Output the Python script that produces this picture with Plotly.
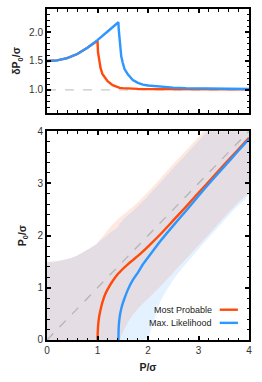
import plotly.graph_objects as go

# ---------------- data ----------------
# Most Probable estimator
P_mp = [0, 0.2, 0.4, 0.6, 0.8, 1.0, 1.01, 1.03, 1.06, 1.1, 1.15, 1.2, 1.3, 1.4, 1.44, 1.5,
        1.6, 1.7, 1.8, 2.0, 2.25, 2.5, 2.75, 3.0, 3.25, 3.5, 3.75, 4.0]
P0_mp = [0, 0, 0, 0, 0, 0, 0.25, 0.43, 0.58, 0.73, 0.87, 0.97, 1.13, 1.26, 1.30, 1.36,
         1.45, 1.53, 1.61, 1.79, 2.03, 2.29, 2.55, 2.82, 3.08, 3.35, 3.61, 3.87]
dP0_mp = [1.50, 1.51, 1.55, 1.62, 1.73, 1.85, 1.65, 1.50, 1.38, 1.27, 1.20, 1.15, 1.08,
          1.045, 1.035, 1.03, 1.022, 1.019, 1.016, 1.013, 1.012, 1.011, 1.010, 1.010,
          1.009, 1.009, 1.008, 1.008]
band_lo_mp = [0, 0, 0, 0, 0, 0, 0, 0, 0, 0, 0, 0, 0, 0, 0, 0.14,
              0.33, 0.48, 0.60, 0.79, 1.03, 1.29, 1.55, 1.81, 2.07, 2.34, 2.60, 2.86]
band_hi_mp = [1.50, 1.51, 1.55, 1.62, 1.73, 1.85, 1.87, 1.90, 1.93, 1.98, 2.04, 2.10, 2.21,
              2.31, 2.34, 2.39, 2.47, 2.55, 2.64, 2.84, 3.10, 3.37, 3.63, 3.89, 4.15,
              4.40, 4.66, 4.92]

# Maximum Likelihood estimator
P_ml = [0, 0.2, 0.4, 0.6, 0.8, 1.0, 1.2, 1.3, 1.414, 1.42, 1.44, 1.47, 1.5, 1.535, 1.6,
        1.7, 1.8, 1.9, 2.0, 2.25, 2.5, 2.75, 3.0, 3.25, 3.5, 3.75, 4.0]
P0_ml = [0, 0, 0, 0, 0, 0, 0, 0, 0, 0.25, 0.45, 0.60, 0.70, 0.80, 0.96,
         1.15, 1.29, 1.45, 1.58, 1.90, 2.19, 2.47, 2.76, 3.04, 3.31, 3.58, 3.85]
dP0_ml = [1.50, 1.51, 1.55, 1.62, 1.73, 1.86, 2.01, 2.09, 2.17, 2.05, 1.79, 1.58, 1.47,
          1.36, 1.27, 1.17, 1.12, 1.09, 1.075, 1.05, 1.038, 1.03, 1.025, 1.022, 1.02,
          1.018, 1.015]
band_lo_ml = [0, 0, 0, 0, 0, 0, 0, 0, 0, 0, 0, 0, 0, 0, 0,
              0, 0, 0, 0.05, 0.75, 1.15, 1.46, 1.74, 2.01, 2.28, 2.54, 2.80]
band_hi_ml = [1.50, 1.51, 1.55, 1.62, 1.73, 1.86, 2.01, 2.09, 2.17, 2.20, 2.23, 2.26, 2.30,
              2.33, 2.39, 2.47, 2.56, 2.66, 2.76, 3.02, 3.29, 3.55, 3.81, 4.07, 4.32,
              4.58, 4.84]

ref_x = [0, 4]
ref_top = [1.0, 1.0]
ref_diag = [0, 4]

names = ["Most Probable", "Max. Likelihood"]
x_ticks = [0, 1, 2, 3, 4]
y_top_ticks = [1.0, 1.5, 2.0]
y_bot_ticks = [0, 1, 2, 3, 4]

# ---------------- styles ----------------
RED = "#ff4a0a"
BLUE = "#2d96ff"
RED_FILL = "rgba(255,69,0,0.12)"
BLUE_FILL = "rgba(30,144,255,0.12)"
FONT = "Liberation Sans, Arial, Helvetica, sans-serif"

fig = go.Figure()


def band(P, lo, hi):
    return list(P) + list(P[::-1]), list(hi) + list(lo[::-1])


bx, by = band(P_mp, band_lo_mp, band_hi_mp)
fig.add_trace(go.Scatter(x=bx, y=by, fill="toself", fillcolor=RED_FILL, mode="none",
                         line=dict(shape="spline", smoothing=0.6),
                         xaxis="x2", yaxis="y2", showlegend=False, hoverinfo="skip"))
bx, by = band(P_ml, band_lo_ml, band_hi_ml)
fig.add_trace(go.Scatter(x=bx, y=by, fill="toself", fillcolor=BLUE_FILL, mode="none",
                         line=dict(shape="spline", smoothing=0.6),
                         xaxis="x2", yaxis="y2", showlegend=False, hoverinfo="skip"))

# reference lines
fig.add_trace(go.Scatter(x=ref_x, y=ref_top, mode="lines",
                         line=dict(color="#c8c8c8", width=1.3, dash="dash"),
                         xaxis="x", yaxis="y", showlegend=False))
fig.add_trace(go.Scatter(x=ref_x, y=ref_diag, mode="lines",
                         line=dict(color="#b4b4b4", width=1.3, dash="dash"),
                         xaxis="x2", yaxis="y2", showlegend=False))

# top panel
fig.add_trace(go.Scatter(x=P_mp, y=dP0_mp, mode="lines", line=dict(color=RED, width=2.4),
                         xaxis="x", yaxis="y", showlegend=False))
fig.add_trace(go.Scatter(x=P_ml, y=dP0_ml, mode="lines", line=dict(color=BLUE, width=2.4),
                         xaxis="x", yaxis="y", showlegend=False))

# bottom panel (estimator is zero below threshold; lines start at threshold)
i_mp = P0_mp.index(0.25) - 1
i_ml = P0_ml.index(0.25) - 1
fig.add_trace(go.Scatter(x=P_mp[i_mp:], y=P0_mp[i_mp:], mode="lines",
                         line=dict(color=RED, width=2.4, shape="spline", smoothing=0.5),
                         xaxis="x2", yaxis="y2", showlegend=False))
fig.add_trace(go.Scatter(x=P_ml[i_ml:], y=P0_ml[i_ml:], mode="lines",
                         line=dict(color=BLUE, width=2.4, shape="spline", smoothing=0.5),
                         xaxis="x2", yaxis="y2", showlegend=False))

axis_common = dict(
    showline=True, linewidth=2, linecolor="black", mirror="allticks",
    ticks="inside", ticklen=4, tickwidth=1.5, tickcolor="black",
    showgrid=False, zeroline=False, automargin=False, ticklabeloverflow="allow",
    tickfont=dict(family=FONT, size=10, color="#333"),
)
minor_common = dict(ticks="inside", ticklen=2.5, tickwidth=1.2, tickcolor="black", showgrid=False)
title_font = dict(family=FONT, size=10.5, color="#222")

fig.update_layout(
    width=262, height=382,
    margin=dict(l=47, r=13, t=9, b=42),
    paper_bgcolor="white", plot_bgcolor="white",
    font=dict(family=FONT, size=10, color="#222"),
    xaxis=dict(domain=[0, 1], range=[0, 4], anchor="y", tickvals=x_ticks,
               showticklabels=False, minor=dict(dtick=0.2, **minor_common), **axis_common),
    yaxis=dict(domain=[0.686, 1], range=[0.6, 2.4], anchor="x", tickvals=y_top_ticks,
               ticktext=["1.0", "1.5", "2.0"],
               minor=dict(dtick=0.1, **minor_common),
               title=dict(text="<b>δP<sub>0</sub>/σ</b>", font=title_font, standoff=6),
               **axis_common),
    xaxis2=dict(domain=[0, 1], range=[0, 4], anchor="y2", tickvals=x_ticks,
                minor=dict(dtick=0.2, **minor_common),
                title=dict(text="<b>P/σ</b>", font=title_font, standoff=9),
                **axis_common),
    yaxis2=dict(domain=[0, 0.631], range=[0, 4], anchor="x2", tickvals=y_bot_ticks,
                minor=dict(dtick=0.2, **minor_common),
                title=dict(text="<b>P<sub>0</sub>/σ</b>", font=title_font, standoff=9),
                **axis_common),
)

# legend (text left of line, as in the reference)
leg_y = [0.145, 0.082]
for name, col, yy in zip(names, [RED, BLUE], leg_y):
    fig.add_annotation(xref="x2 domain", yref="y2 domain", x=0.825, y=yy, text=name,
                       showarrow=False, xanchor="right", yanchor="middle",
                       font=dict(family=FONT, size=9, color="#222"))
    fig.add_shape(type="line", xref="x2 domain", yref="y2 domain", x0=0.855, x1=0.945,
                  y0=yy, y1=yy, line=dict(color=col, width=2.4))

fig.write_html("out.html", config={"displayModeBar": False},
               post_script="document.body.style.margin='0';document.body.style.overflow='hidden';")
